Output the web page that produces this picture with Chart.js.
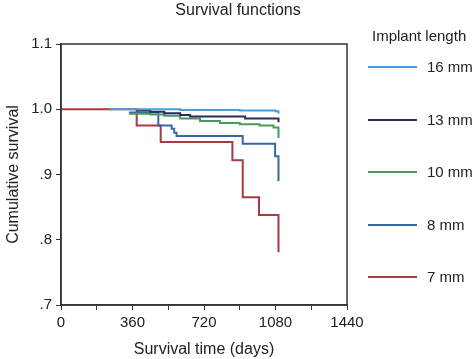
<!DOCTYPE html>
<html>
<head>
<meta charset="utf-8">
<script src="https://cdn.jsdelivr.net/npm/chart.js@4"></script>
<style>
  body { margin: 0; background: #fff; }
  #wrap { position: relative; width: 474px; height: 359px; }
  #legend { position: absolute; left: 362px; top: 27px; font: 15px "Liberation Sans", Arial, sans-serif; color: #222; }
  #legend .ttl { margin-left: 10px; height: 24px; white-space: nowrap; }
  #legend .item { position: absolute; left: 6px; width: 112px; height: 20px; white-space: nowrap; }
  #legend .item span.ln { position: absolute; left: 0; top: 9px; width: 49px; height: 2px; }
  #legend .item span.tx { position: absolute; left: 59px; top: 1px; }
</style>
</head>
<body>
<div id="wrap">
  <canvas id="chart" width="474" height="359"></canvas>
  <div id="legend"><div class="ttl">Implant length</div></div>
</div>
<script>
const seriesNames = ["16 mm", "13 mm", "10 mm", "8 mm", "7 mm"];
const seriesColors = ["#4a9fd8", "#2b2a5e", "#4a9a5a", "#3a66a8", "#a83a40"];

// Kaplan-Meier steps: survival after each time point (days)
const t16 = [247, 600, 900, 1080, 1095];
const s16 = [1.0, 0.999, 0.998, 0.997, 0.993];
const t13 = [381, 450, 520, 600, 650, 927, 1095];
const s13 = [0.998, 0.996, 0.994, 0.991, 0.989, 0.986, 0.980];
const t10 = [342, 450, 520, 600, 700, 800, 900, 1000, 1070, 1095];
const s10 = [0.993, 0.992, 0.990, 0.986, 0.982, 0.979, 0.977, 0.975, 0.972, 0.956];
const t8 = [342, 490, 557, 570, 582, 915, 1078, 1095];
const s8 = [0.995, 0.975, 0.970, 0.964, 0.959, 0.947, 0.928, 0.890];
const t7 = [0, 381, 502, 863, 915, 997, 1095];
const s7 = [1.0, 0.975, 0.95, 0.922, 0.865, 0.838, 0.781];

const xTicks = [0, 360, 720, 1080, 1440];
const yTicks = [0.7, 0.8, 0.9, 1.0, 1.1];
const yTickLabels = [".7", ".8", ".9", "1.0", "1.1"];

const times = [t16, t13, t10, t8, t7];
const surv = [s16, s13, s10, s8, s7];

const datasets = seriesNames.map((name, i) => ({
  label: name,
  data: times[i].map((t, j) => ({ x: t, y: surv[i][j] })),
  borderColor: seriesColors[i],
  borderWidth: 2,
  pointRadius: 0,
  stepped: true,
  fill: false,
}));

const legendEl = document.getElementById("legend");
seriesNames.forEach((name, i) => {
  const d = document.createElement("div");
  d.className = "item";
  d.style.top = (30 + i * 52.5) + "px";
  d.innerHTML = `<span class="ln" style="background:${seriesColors[i]}"></span><span class="tx">${name}</span>`;
  legendEl.appendChild(d);
});

const framePlugin = {
  id: "frame",
  afterDraw(chart) {
    const { ctx, chartArea: a } = chart;
    ctx.save();
    ctx.strokeStyle = "#333";
    ctx.lineWidth = 1.5;
    ctx.strokeRect(a.left, a.top, a.right - a.left, a.bottom - a.top);
    ctx.fillStyle = "#222";
    ctx.font = '16px "Liberation Sans", Arial, sans-serif';
    ctx.textAlign = "center";
    ctx.textBaseline = "middle";
    ctx.fillText("Survival functions", 238, 11);
    ctx.restore();
  },
};

const font = { family: '"Liberation Sans", Arial, sans-serif', size: 15 };

new Chart(document.getElementById("chart"), {
  type: "line",
  data: { datasets },
  options: {
    responsive: false,
    animation: false,
    layout: { padding: { top: 44, right: 127, left: 0, bottom: 0 } },
    plugins: { legend: { display: false }, tooltip: { enabled: false } },
    scales: {
      x: {
        type: "linear",
        min: 0,
        max: 1440,
        afterBuildTicks: (s) => { s.ticks = [0, 180, 360, 540, 720, 900, 1080, 1260, 1440].map((v) => ({ value: v })); },
        ticks: {
          color: "#222",
          font,
          padding: 4,
          maxRotation: 0,
          autoSkip: false,
          callback: (v) => (xTicks.includes(v) ? String(v) : ""),
        },
        grid: { drawOnChartArea: false, drawTicks: true, tickLength: 5, color: "#333" },
        border: { color: "#333", width: 1.5 },
        title: { display: true, text: "Survival time (days)", color: "#222", font: { ...font, size: 16 }, padding: { top: 4, bottom: 0 } },
        afterFit: (s) => { s.height = 54; },
      },
      y: {
        type: "linear",
        min: 0.7,
        max: 1.1,
        afterBuildTicks: (s) => { s.ticks = yTicks.map((v) => ({ value: v })); },
        ticks: {
          color: "#222",
          font,
          padding: 4,
          callback: (v) => {
            const k = yTicks.findIndex((t) => Math.abs(t - v) < 1e-6);
            return k >= 0 ? yTickLabels[k] : "";
          },
        },
        grid: { drawOnChartArea: false, drawTicks: true, tickLength: 5, color: "#333" },
        border: { color: "#333", width: 1.5 },
        title: { display: true, text: "Cumulative survival", color: "#222", font: { ...font, size: 16 }, padding: { bottom: 4 } },
        afterFit: (s) => { s.width = 61; },
      },
    },
  },
  plugins: [framePlugin],
});
</script>
</body>
</html>
